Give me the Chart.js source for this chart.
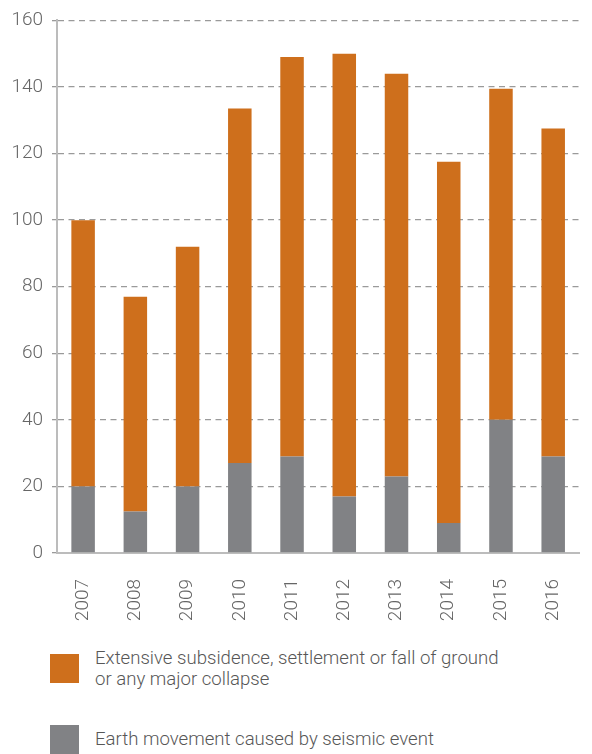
<!DOCTYPE html>
<html>
<head>
<meta charset="utf-8">
<script src="https://cdn.jsdelivr.net/npm/chart.js@4"></script>
<style>
  html, body { margin: 0; padding: 0; background: #fff; }
  body { width: 592px; height: 754px; position: relative; overflow: hidden; font-family: Roboto, sans-serif; }
  #chartWrap { position: absolute; left: 0; top: 0; width: 594px; height: 630px; }
  .legend-item { position: absolute; left: 0; width: 592px; }
  .legend-swatch { position: absolute; left: 50px; width: 29px; height: 29px; }
  .legend-text { position: absolute; left: 95px; font-size: 18.6px; font-weight: 300; line-height: 21px; color: #575757; white-space: nowrap; }
</style>
</head>
<body>
<div id="chartWrap"><canvas id="groundChart" width="594" height="630"></canvas></div>

<div class="legend-item">
  <div class="legend-swatch" style="top:654px; background:#ce6f1c;"></div>
  <div class="legend-text" style="top:648px;">Extensive subsidence, settlement or fall of ground<br>or any major collapse</div>
</div>
<div class="legend-item">
  <div class="legend-swatch" style="top:725px; background:#818285;"></div>
  <div class="legend-text" style="top:729px;">Earth movement caused by seismic event</div>
</div>

<script>
// ---- data ----
const years = ["2007", "2008", "2009", "2010", "2011", "2012", "2013", "2014", "2015", "2016"];
const seismic = [20, 12.5, 20, 27, 29, 17, 23, 9, 40, 29];
const collapse = [80, 64.5, 72, 106.5, 120, 133, 121, 108.5, 99.5, 98.5];
const yTicks = [0, 20, 40, 60, 80, 100, 120, 140, 160];

const ORANGE = "#ce6f1c";
const GREY = "#818285";
const tickFont = { family: "Roboto", size: 19, weight: "300" };

new Chart(document.getElementById("groundChart"), {
  type: "bar",
  data: {
    labels: years,
    datasets: [
      {
        label: "Earth movement caused by seismic event",
        data: seismic,
        backgroundColor: GREY,
        borderWidth: 0,
      },
      {
        label: "Extensive subsidence, settlement or fall of ground or any major collapse",
        data: collapse,
        backgroundColor: ORANGE,
        borderWidth: 0,
      },
    ],
  },
  options: {
    responsive: false,
    animation: false,
    layout: { padding: { top: 18, right: 0, bottom: 0, left: 0 } },
    plugins: {
      legend: { display: false },
      tooltip: { enabled: false },
    },
    datasets: {
      bar: { categoryPercentage: 1, barPercentage: 0.45 },
    },
    scales: {
      x: {
        stacked: true,
        grid: { display: false },
        border: { display: true, color: "#bcbcbc", width: 2 },
        ticks: {
          color: "#666",
          font: tickFont,
          minRotation: 90,
          maxRotation: 90,
          padding: 18,
        },
        afterFit: function (scale) {
          scale.height = 77;
        },
      },
      y: {
        stacked: true,
        min: 0,
        max: 160,
        afterBuildTicks: function (scale) {
          scale.ticks = yTicks.map((v) => ({ value: v }));
        },
        grid: {
          color: "#9a9a9a",
          lineWidth: 1.3,
          tickLength: 5,
          tickColor: "#9a9a9a",
          tickBorderDash: [],
        },
        border: { display: true, color: "#bcbcbc", width: 2, dash: [6, 4.5] },
        ticks: {
          color: "#666",
          font: tickFont,
          padding: 9,
        },
        afterFit: function (scale) {
          scale.width = 57;
        },
      },
    },
  },
});
</script>
</body>
</html>
